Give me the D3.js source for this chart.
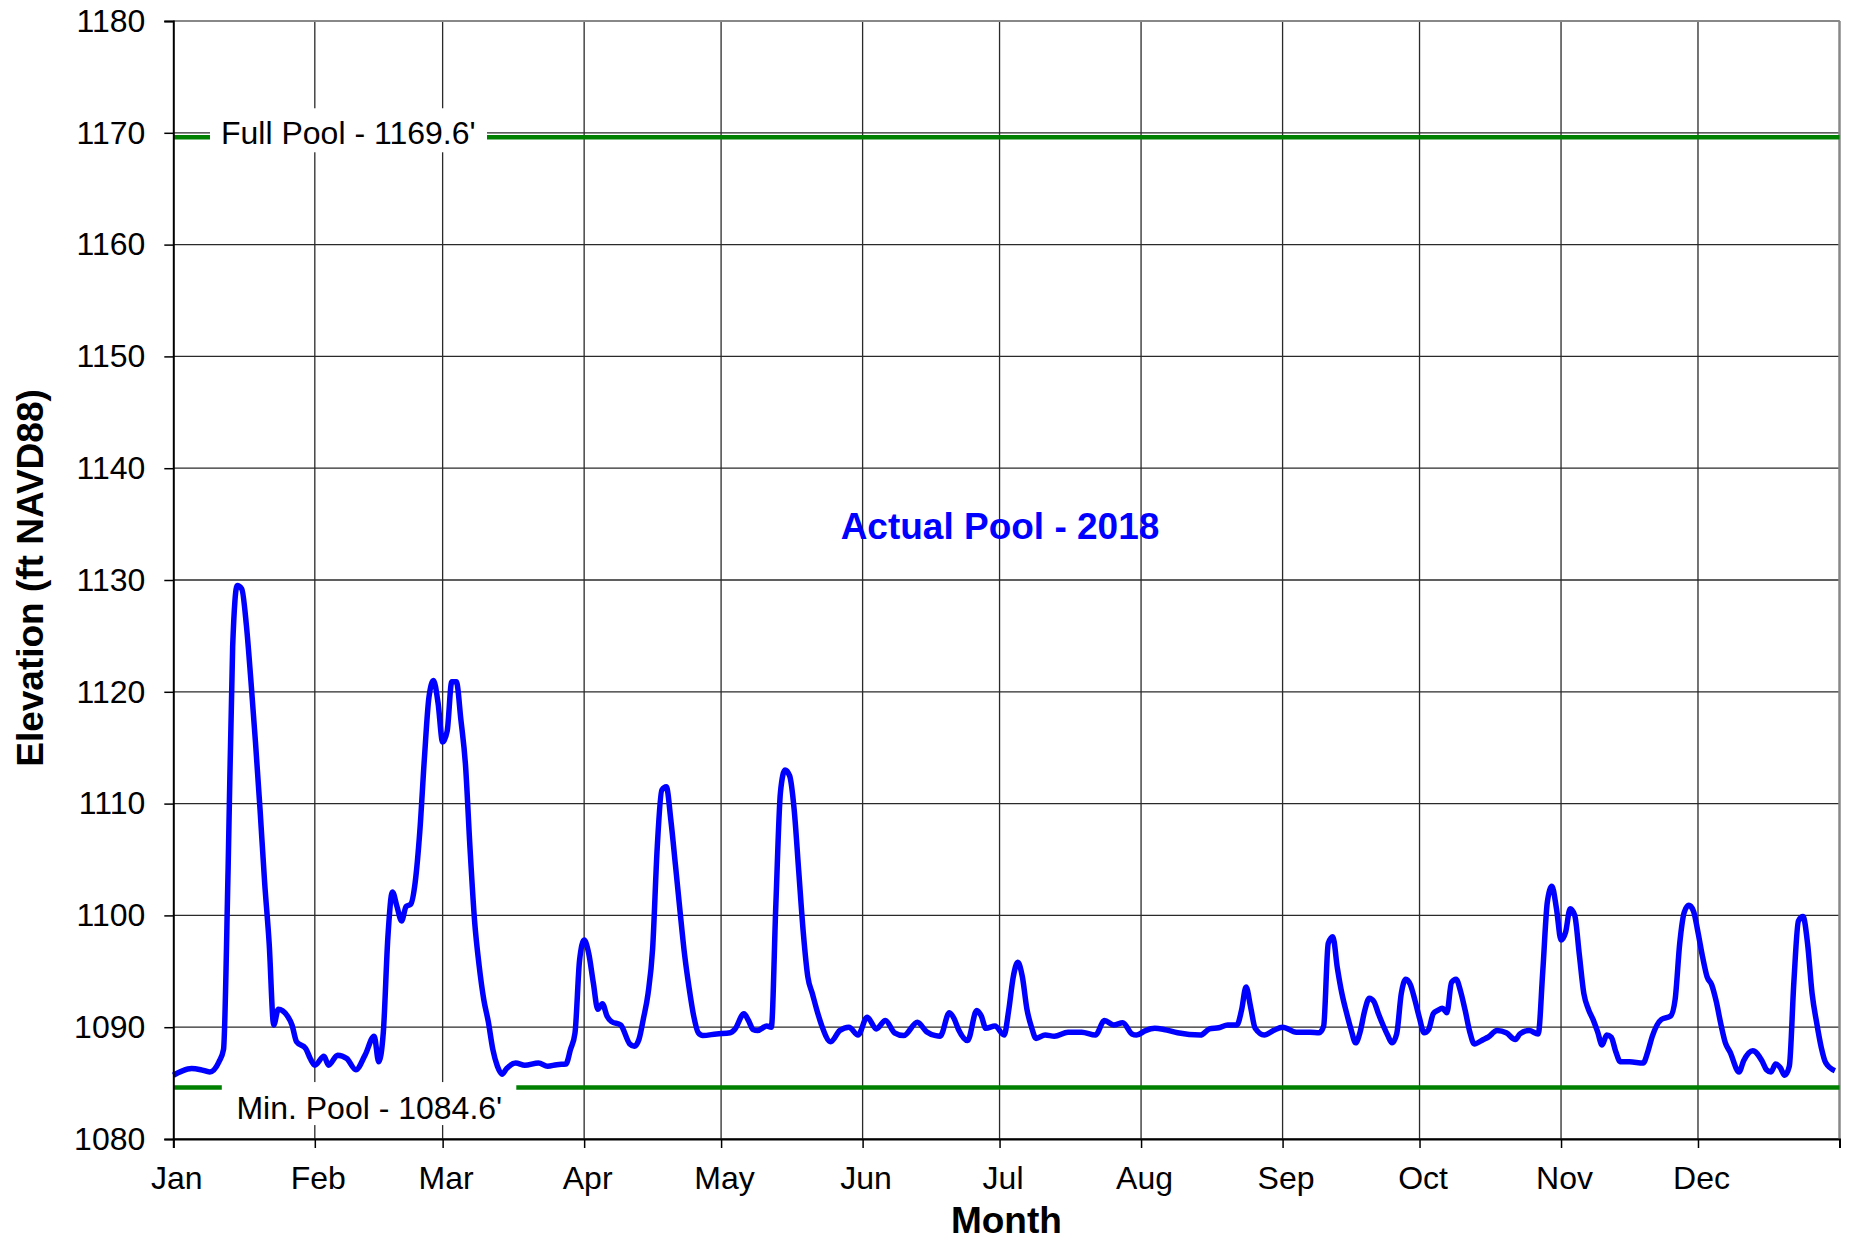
<!DOCTYPE html>
<html>
<head>
<meta charset="utf-8">
<script src="https://d3js.org/d3.v7.min.js"></script>
<style>
  body { margin: 0; background: #ffffff; }
  text { font-family: "Liberation Sans", Arial, sans-serif; }
</style>
</head>
<body>
<div id="chart"></div>
<script>
// Day of year (0 = Jan 1, 2018) and pool elevation
var dayOfYear = [0, 2, 4, 6, 8, 10, 11, 12, 13, 14, 15, 16, 17, 18, 19, 20, 21, 22, 23, 25, 26, 27, 29, 30,
  31, 33, 34, 36, 38, 40, 42, 44, 45, 46, 47, 48, 49, 50, 51, 52, 53, 54, 55, 56, 57, 58, 59, 60,
  61, 62, 63, 64, 65, 66, 67, 68, 69, 70, 71, 72, 73, 75, 77, 80, 82, 84, 86, 87, 88, 89,
  90, 91, 92, 93, 94, 95, 96, 98, 100, 101, 102, 103, 104, 105, 106, 107, 108, 109, 110, 111, 112, 113, 114, 115, 116, 119,
  122, 123, 125, 126, 127, 128, 130, 131, 132, 133, 134, 135, 136, 137, 138, 139, 140, 141, 142, 144, 146, 148, 150,
  152, 154, 156, 158, 160, 163, 165, 167, 168, 170, 171, 172, 174, 176, 177, 178, 180,
  182, 183, 184, 185, 186, 187, 188, 189, 191, 193, 196, 199, 202, 204, 206, 208, 210, 211,
  213, 215, 217, 220, 225, 227, 229, 231, 233, 234, 235, 236, 237, 239, 241,
  243, 246, 249, 251, 252, 253, 254, 255, 256, 257, 258, 259, 260, 261, 262, 263, 264, 265, 266, 267, 268, 269, 270, 271, 272,
  273, 274, 275, 276, 277, 278, 279, 280, 281, 282, 283, 284, 285, 287, 288, 290, 292, 294, 295, 297, 299, 300, 301, 302, 303,
  304, 305, 306, 307, 308, 309, 310, 311, 312, 313, 314, 315, 316, 317, 319, 322, 323, 324, 326, 328, 329, 330, 331, 332, 333,
  334, 335, 336, 337, 338, 339, 340, 341, 343, 344, 346, 348, 349, 350, 351, 352, 353, 354, 355, 356, 357, 358, 359, 360, 361, 362, 364];

var elevation = [1085.7, 1086.1, 1086.3, 1086.2, 1086.0, 1086.9, 1088.0, 1104, 1124, 1129.5, 1129.2, 1126, 1121, 1115.5, 1109.5, 1103, 1097.5, 1090.2, 1091.6, 1091.0, 1090.2, 1088.7, 1088.1, 1087.2,
  1086.6, 1087.4, 1086.6, 1087.5, 1087.2, 1086.2, 1087.5, 1089.2, 1086.9, 1089.5, 1098, 1102.1, 1100.8, 1099.5, 1100.8, 1101, 1103, 1107.5, 1114, 1119.5, 1121, 1119, 1115.5, 1116.5,
  1120.9, 1120.9, 1117.5, 1113.5, 1106, 1099.5, 1095.5, 1092.5, 1090.5, 1088, 1086.5, 1085.8, 1086.3, 1086.8, 1086.6, 1086.8, 1086.5, 1086.65, 1086.7, 1088, 1089.5, 1096,
  1097.8, 1096.6, 1094, 1091.6, 1092.1, 1091, 1090.5, 1090.2, 1088.5, 1088.3, 1088.9, 1090.8, 1093, 1097, 1106, 1111.2, 1111.5, 1108.5, 1104.5, 1100.4, 1096.5, 1093.5, 1091, 1089.5, 1089.25, 1089.4,
  1089.5, 1089.8, 1091.2, 1090.6, 1089.8, 1089.7, 1090.1, 1090.0, 1101, 1111, 1113, 1112.5, 1109.5, 1104, 1098.5, 1094.5, 1093, 1091.5, 1090.2, 1088.7, 1089.7, 1090, 1089.3,
  1090.9, 1089.85, 1090.6, 1089.5, 1089.25, 1090.45, 1089.6, 1089.25, 1089.2, 1091.3, 1090.8, 1089.8, 1088.8, 1091.5, 1091, 1089.9, 1090.1,
  1089.3, 1091.5, 1094.5, 1095.8, 1094.5, 1091.6, 1090, 1089, 1089.3, 1089.2, 1089.55, 1089.55, 1089.3, 1090.6, 1090.2, 1090.4, 1089.4, 1089.3,
  1089.7, 1089.9, 1089.8, 1089.5, 1089.3, 1089.85, 1089.95, 1090.2, 1090.2, 1091.5, 1093.6, 1091.8, 1089.9, 1089.3, 1089.7,
  1090, 1089.55, 1089.55, 1089.5, 1090.1, 1097.5, 1098.1, 1095.3, 1093, 1091.3, 1089.8, 1088.6, 1089.6, 1091.5, 1092.6, 1092.3, 1091.2, 1090.2, 1089.3, 1088.6, 1089.4, 1093, 1094.3, 1093.8, 1092.4,
  1090.8, 1089.5, 1089.8, 1091.2, 1091.5, 1091.7, 1091.3, 1094, 1094.3, 1093.2, 1091.5, 1089.6, 1088.5, 1088.9, 1089.1, 1089.7, 1089.5, 1088.9, 1089.4, 1089.7, 1089.4, 1095, 1101.2, 1102.6, 1100.6,
  1097.8, 1098.5, 1100.6, 1100, 1096.5, 1093, 1091.6, 1090.7, 1089.6, 1088.4, 1089.3, 1089.1, 1087.8, 1086.9, 1086.9, 1086.8, 1087.8, 1089.2, 1090.7, 1091.0, 1092.5, 1097.5, 1100.3, 1100.9, 1100.4,
  1098.5, 1096.3, 1094.5, 1093.8, 1092.3, 1090.3, 1088.6, 1087.8, 1086, 1087, 1087.9, 1087, 1086.2, 1086, 1086.7, 1086.4, 1085.7, 1086.5, 1094, 1099.5, 1099.9, 1097.5, 1093, 1090.4, 1088.2, 1086.8, 1086.1];

// Reference pool levels
var poolNames = ["Full Pool - 1169.6'", "Min. Pool - 1084.6'"];
var poolLevels = [1169.6, 1084.6];

// Axis ticks
var yTicks = [1080, 1090, 1100, 1110, 1120, 1130, 1140, 1150, 1160, 1170, 1180];
var monthLabels = ["Jan", "Feb", "Mar", "Apr", "May", "Jun", "Jul", "Aug", "Sep", "Oct", "Nov", "Dec"];

// Define SVG area dimensions
var svgWidth = 1849;
var svgHeight = 1241;

var chartMargin = {
  top: 21,
  right: 9.5,
  bottom: 102,
  left: 173.3
};

var chartWidth = svgWidth - chartMargin.left - chartMargin.right;
var chartHeight = svgHeight - chartMargin.top - chartMargin.bottom;

var svg = d3.select("#chart")
  .append("svg")
  .attr("width", svgWidth)
  .attr("height", svgHeight)
  .style("background", "#ffffff");

var chartGroup = svg.append("g")
  .attr("transform", `translate(${chartMargin.left}, ${chartMargin.top})`);

var data = dayOfYear.map(function(d, i) {
  return { date: new Date(2018, 0, 1 + d), value: elevation[i] };
});

// Scales
var xTimeScale = d3.scaleTime()
  .domain([new Date(2018, 0, 1), new Date(2019, 0, 1)])
  .range([0, chartWidth]);

var yLinearScale = d3.scaleLinear()
  .domain([1080, 1180])
  .range([chartHeight, 0]);

var monthTicks = monthLabels.map((m, i) => new Date(2018, i, 1));

// Gridlines
chartGroup.append("g")
  .selectAll("line")
  .data(yTicks)
  .enter()
  .append("line")
  .attr("x1", 0)
  .attr("x2", chartWidth)
  .attr("y1", d => yLinearScale(d))
  .attr("y2", d => yLinearScale(d))
  .attr("stroke", "#2a2a2a")
  .attr("stroke-width", 1.3);

chartGroup.append("g")
  .selectAll("line")
  .data(monthTicks.slice(1))
  .enter()
  .append("line")
  .attr("x1", d => xTimeScale(d))
  .attr("x2", d => xTimeScale(d))
  .attr("y1", 0)
  .attr("y2", chartHeight)
  .attr("stroke", "#2a2a2a")
  .attr("stroke-width", 1.3);

// plot border (top and right in gray)
chartGroup.append("line")
  .attr("x1", 0).attr("x2", chartWidth)
  .attr("y1", 0).attr("y2", 0)
  .attr("stroke", "#888888").attr("stroke-width", 2);
chartGroup.append("line")
  .attr("x1", chartWidth).attr("x2", chartWidth)
  .attr("y1", 0).attr("y2", chartHeight)
  .attr("stroke", "#888888").attr("stroke-width", 2.5);

// Pool level lines
chartGroup.append("g")
  .selectAll("line")
  .data(poolLevels)
  .enter()
  .append("line")
  .attr("x1", 0)
  .attr("x2", chartWidth)
  .attr("y1", d => yLinearScale(d))
  .attr("y2", d => yLinearScale(d))
  .attr("stroke", "#008000")
  .attr("stroke-width", 4.5);

// Pool labels with white boxes
var labelBox = [
  { x0: 36.7, x1: 313.7, y0: -29, y1: 15, tx: 175, ty: 7 },
  { x0: 48.5, x1: 343, y0: -5.5, y1: 37.5, tx: 196, ty: 31.5 }
];

poolLevels.forEach(function(level, i) {
  var b = labelBox[i];
  var y = yLinearScale(level);
  chartGroup.append("rect")
    .attr("x", b.x0)
    .attr("y", y + b.y0)
    .attr("width", b.x1 - b.x0)
    .attr("height", b.y1 - b.y0)
    .attr("fill", "#ffffff");
  chartGroup.append("text")
    .attr("x", b.tx)
    .attr("y", y + b.ty)
    .attr("text-anchor", "middle")
    .style("font-size", "32px")
    .text(poolNames[i]);
});

// Actual pool line
var line = d3.line()
  .x(d => xTimeScale(d.date))
  .y(d => yLinearScale(d.value))
  .curve(d3.curveMonotoneX);

chartGroup.append("path")
  .datum(data)
  .attr("d", line)
  .attr("fill", "none")
  .attr("stroke", "#0000ff")
  .attr("stroke-width", 5.5)
  .attr("stroke-linejoin", "round");

chartGroup.append("text")
  .attr("x", 826.7)
  .attr("y", 518)
  .attr("text-anchor", "middle")
  .attr("fill", "#0000ff")
  .style("font-size", "37px")
  .style("font-weight", "bold")
  .text("Actual Pool - 2018");

// Axes
var leftAxis = d3.axisLeft(yLinearScale)
  .tickValues(yTicks)
  .tickSize(9)
  .tickPadding(19)
  .tickFormat(d3.format("d"));

var bottomAxis = d3.axisBottom(xTimeScale)
  .tickValues(monthTicks.concat([new Date(2019, 0, 1)]))
  .tickSize(9)
  .tickPadding(18)
  .tickFormat((d, i) => i < monthLabels.length ? monthLabels[i] : "");

var yAxisG = chartGroup.append("g")
  .call(leftAxis);

var xAxisG = chartGroup.append("g")
  .attr("transform", `translate(0, ${chartHeight})`)
  .call(bottomAxis);

[yAxisG, xAxisG].forEach(function(g) {
  g.select(".domain").attr("stroke", "#000000").attr("stroke-width", 2);
  g.selectAll(".tick line").attr("stroke", "#000000").attr("stroke-width", 1.5);
  g.selectAll(".tick text")
    .attr("fill", "#000000")
    .style("font-size", "32px")
    .style("font-family", "'Liberation Sans', Arial, sans-serif");
});

xAxisG.selectAll(".tick text").attr("dx", 3);

// Axis titles
chartGroup.append("text")
  .attr("transform", "rotate(-90)")
  .attr("x", 0 - chartHeight / 2 + 2)
  .attr("y", 0 - chartMargin.left + 43)
  .attr("text-anchor", "middle")
  .style("font-size", "37px")
  .style("font-weight", "bold")
  .text("Elevation (ft NAVD88)");

chartGroup.append("text")
  .attr("x", chartWidth / 2)
  .attr("y", chartHeight + 94)
  .attr("text-anchor", "middle")
  .style("font-size", "37px")
  .style("font-weight", "bold")
  .text("Month");
</script>
</body>
</html>
